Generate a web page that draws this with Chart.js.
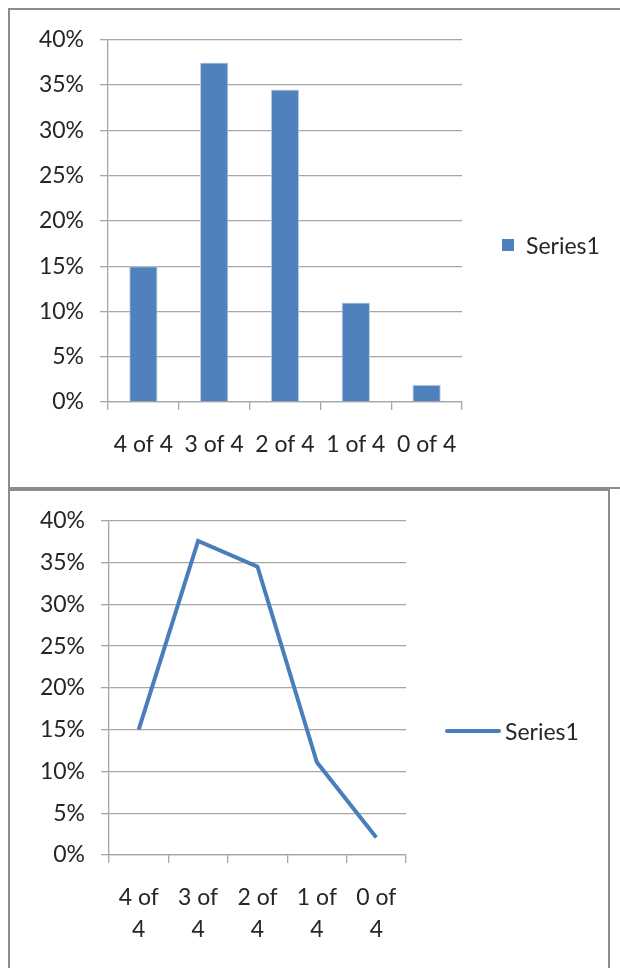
<!DOCTYPE html>
<html lang="en">
<head>
    <meta charset="UTF-8">
    <title>Series1</title>
    <script src="https://cdn.jsdelivr.net/npm/chart.js"></script>
    <style>
        body { margin: 0; background: #fff; width: 620px; height: 968px; overflow: hidden; position: relative; font-family: Lato, "Open Sans", sans-serif; }
        .box { position: absolute; border: 2px solid #8c8c8c; box-sizing: border-box; }
        #box1 { left: 8px; top: 8px; width: 640px; height: 481px; }
        #box2 { left: 8px; top: 489px; width: 602px; height: 500px; }
        .box canvas { position: absolute; left: 0; top: 0; }
        .legend { position: absolute; font-size: 23px; color: #262626; display: flex; align-items: center; }
        .swatch { width: 12px; height: 12px; background: #4f81bd; margin-right: 12px; }
        .lineswatch { width: 56px; height: 4px; border-radius: 2px; background: #4a7ebb; margin-right: 4px; }
    </style>
</head>
<body>
    <div class="box" id="box1">
        <canvas id="barChart"></canvas>
        <div class="legend" style="left:492px; top:221px;"><span class="swatch"></span>Series1</div>
    </div>
    <div class="box" id="box2">
        <canvas id="lineChart"></canvas>
        <div class="legend" style="left:435px; top:226px;"><span class="lineswatch"></span>Series1</div>
    </div>
    <script>
// data
const categories = ['4 of 4', '3 of 4', '2 of 4', '1 of 4', '0 of 4'];
const barValues = [15, 37.5, 34.5, 11, 1.9];
const lineValues = [15, 37.6, 34.5, 11.1, 2.1];
const yTicks = [0, 5, 10, 15, 20, 25, 30, 35, 40];

const textColor = '#262626';
const gridColor = '#a6a6a6';
const font = { family: 'Lato, "Open Sans", sans-serif', size: 23 };

// fixed sizes for axes so the plot sits where it does in the picture
function fixWidth(w) { return s => { s.width = w; }; }
function fixHeight(h) { return s => { s.height = h; }; }

function yAxis(width) {
    return {
        min: 0, max: 40,
        afterBuildTicks: s => { s.ticks = yTicks.map(v => ({ value: v })); },
        afterFit: fixWidth(width),
        ticks: { color: textColor, font: font, padding: 16, callback: v => v + '%' },
        grid: { color: gridColor, lineWidth: 1.3, tickLength: 8, drawTicks: true },
        border: { display: true, color: gridColor, width: 1.3 }
    };
}

function makeCanvas(id, w, h) {
    const c = document.getElementById(id);
    c.width = w; c.height = h;
    c.style.width = w + 'px'; c.style.height = h + 'px';
    return c;
}

// bar chart, plot area x 108..462, y 37..402 on the page
new Chart(makeCanvas('barChart', 620, 477), {
    type: 'bar',
    data: {
        labels: categories,
        datasets: [{
            label: 'Series1',
            data: barValues,
            backgroundColor: '#4f81bd',
            borderColor: '#b9cde5',
            borderWidth: { left: 1, right: 1, top: 1, bottom: 0 },
            categoryPercentage: 1,
            barPercentage: 0.4
        }]
    },
    options: {
        responsive: false,
        animation: false,
        layout: { padding: { left: 0, right: 620 - 452, top: 24, bottom: 477 - 392 - 60 } },
        plugins: { legend: { display: false }, tooltip: { enabled: false } },
        scales: {
            x: {
                afterFit: fixHeight(60),
                ticks: { color: textColor, font: font, padding: 21, maxRotation: 0, autoSkip: false },
                grid: { drawOnChartArea: false, offset: true, color: gridColor, lineWidth: 1.3, tickLength: 8 },
                border: { display: true, color: gridColor, width: 1.3 }
            },
            y: yAxis(98)
        }
    }
});

// line chart, plot area x 109..406, y 520..855 on the page
const lineLabels = categories.map(c => [c.slice(0, -2), c.slice(-1)]);
new Chart(makeCanvas('lineChart', 598, 477), {
    type: 'line',
    data: {
        labels: lineLabels,
        datasets: [{
            label: 'Series1',
            data: lineValues,
            borderColor: '#4a7ebb',
            borderWidth: 4,
            pointRadius: 0,
            tension: 0,
            fill: false
        }]
    },
    options: {
        responsive: false,
        animation: false,
        layout: { padding: { left: 0, right: 598 - 396, top: 28, bottom: 477 - 364 - 100 } },
        plugins: { legend: { display: false }, tooltip: { enabled: false } },
        scales: {
            x: {
                offset: true,
                afterFit: fixHeight(100),
                ticks: { color: textColor, font: Object.assign({}, font, { lineHeight: 1.4 }), padding: 18, maxRotation: 0, autoSkip: false },
                grid: { drawOnChartArea: false, offset: true, color: gridColor, lineWidth: 1.3, tickLength: 8 },
                border: { display: true, color: gridColor, width: 1.3 }
            },
            y: yAxis(99)
        }
    }
});
    </script>
</body>
</html>
